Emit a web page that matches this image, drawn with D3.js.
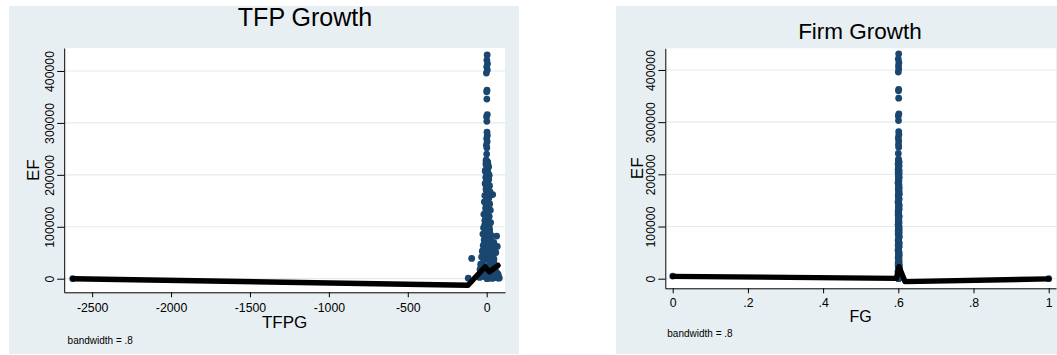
<!DOCTYPE html>
<html>
<head>
<meta charset="utf-8">
<script src="https://cdn.jsdelivr.net/npm/d3@7"></script>
<style>
  body { margin: 0; background: #fff; }
  svg { display: block; font-family: "Liberation Sans", Arial, sans-serif; }
</style>
</head>
<body>
<svg id="chart" width="1057" height="355"></svg>
<script>
// EF values of the observations that sit in the tall column (shared by both panels)
const efColumn = [
  431000, 421000, 414000, 408000, 402000, 396000, 363000, 360000, 346000, 316000,
  312000, 303000, 282000, 276000, 270000, 264000, 257000, 252000, 240000, 229000,
  225000, 221000, 217000, 213000, 209000, 205000, 201000, 197000, 193000, 189000,
  185000, 181000, 177000, 173000, 169000, 165000, 162000, 158000, 154000, 150000,
  146000, 142000, 138000, 134000, 130000, 126000, 122000, 118000, 114000, 110000,
  106000, 103000, 100000, 96000, 92000, 88000, 85000, 81000, 77000, 73000,
  70000, 66000, 62000, 58000, 55000, 51000, 47000, 44000, 40000, 37000,
  33000, 30000, 26000, 23000, 20000, 17000, 14000, 11000, 8000, 5000,
  3000, 1000, 0, 2000, 6000, 4000, 9000, 15000, 24000, 31000,
  227000, 223000, 219000, 215000, 211000, 207000, 203000, 199000, 195000, 191000,
  187000, 183000, 179000, 175000, 171000, 167000, 163000, 160000, 156000, 152000,
  148000, 144000, 140000, 136000, 132000, 128000, 124000, 120000, 116000, 112000,
  108000, 104000, 98000, 94000, 90000, 86000, 83000, 79000, 75000, 71000,
  68000, 64000, 60000, 56000, 53000, 49000, 45000, 42000, 38000, 35000,
  28000, 25000, 21000, 18000, 12000, 10000, 7000, 2500, 1500, 500
];
// TFPG for the same rows
const tfpgColumn = [
  3, 1, 5, 0, 4, -2, 2, 0, 1, 4,
  -1, 1, 2, 4, 0, 3, -2, 1, 0, -3,
  6, -5, 10, 2, -7, 5, 12, -2, 8, 1,
  -6, 9, 3, -4, 15, 6, 38, -1, 11, 3,
  -8, 9, 0, 14, -5, 4, -10, 11, 2, -6,
  7, -13, 16, 1, -9, 20, -3, 26, 6, -15,
  10, -2, 24, 4, -20, 14, 0, 30, -12, 8,
  36, -25, 18, -5, 42, 10, -30, 22, 50, -8,
  60, 15, 2, 68, 33, -18, 72, 55, -35, 45,
  -4, 7, -1, 12, 4, -9, 9, 16, -6, 13,
  2, -10, 18, 7, -3, 21, 0, -12, 14, 5,
  -15, 19, 8, -7, 23, 2, -18, 16, 9, -12,
  25, 3, -20, 19, 12, -24, 28, 6, -16, 34,
  18, -22, 40, 2, -28, 30, 12, -32, 46, 20,
  -38, 56, 28, -42, 62, 5, 48, -45, 80, 36
];
// FG for the same rows
const fgColumn = [
  .601, .6, .6015, .6005, .601, .6, .601, .6005, .601, .6015,
  .6, .6005, .601, .6015, .6, .601, .6005, .601, .6, .6005,
  .6015, .5998, .602, .6005, .5995, .601, .6022, .6, .6018, .6008,
  .5997, .6016, .6006, .6, .602, .601, .6024, .6002, .6017, .6007,
  .5996, .6015, .6003, .6021, .5998, .601, .5995, .6018, .6005, .5999,
  .6012, .5996, .6022, .6004, .5997, .6024, .6001, .602, .601, .5995,
  .6014, .6, .6023, .6008, .5995, .6019, .6003, .6024, .5997, .6012,
  .6022, .5996, .6018, .6, .6025, .601, .5995, .602, .6023, .6002,
  .6015, .6005, .601, .6022, .5998, .6018, .6003, .5996, .6024, .6008,
  .6008, .6019, .5997, .6014, .6003, .6023, .5996, .6011, .6021, .6001,
  .6016, .5995, .6009, .6024, .6, .6013, .6021, .5998, .6006, .6019,
  .5996, .6012, .6024, .6002, .6017, .5995, .6009, .6022, .6, .6014,
  .6019, .5997, .6011, .6025, .6004, .5996, .6016, .6021, .6001, .601,
  .6024, .5998, .6013, .6006, .5995, .602, .6011, .5999, .6018, .6003,
  .6023, .5996, .6008, .602, .5997, .6013, .6025, .6002, .6017, .5998
];

// stray observations away from the column
const tfpgExtraX = [-2623, -117, -95, 63, 67, 58, 45, 72, 52, 75, 66, 40];
const tfpgExtraY = [0, 1000, 39000, 82000, 62000, 50000, 70000, 6000, 3000, 1000, 8000, 58000];
const fgExtraX = [0, 1];
const fgExtraY = [5000, 0];

// fitted lines (bandwidth = .8)
const tfpgLineX = [-2623, -118, -10, 0, 17, 72];
const tfpgLineY = [0, -12500, 23000, 19000, 13500, 25500];
const fgLineX = [0, 0.595, 0.602, 0.618, 1];
const fgLineY = [4500, 700, 23000, -5700, -300];

const efTicks = [0, 100000, 200000, 300000, 400000];
const tfpgTicks = [-2500, -2000, -1500, -1000, -500, 0];
const fgTicks = [0, 0.2, 0.4, 0.6, 0.8, 1];
const fgTickLabels = ["0", ".2", ".4", ".6", ".8", "1"];

const navy = "#1a476f";
const panelBg = "#e8eff2";
const gridColor = "#e3ebee";

const svg = d3.select("#chart");

function drawPanel(p) {
  const g = svg.append("g");

  g.append("rect")
    .attr("x", p.bg[0]).attr("y", p.bg[1])
    .attr("width", p.bg[2]).attr("height", p.bg[3])
    .attr("fill", panelBg);

  g.append("rect")
    .attr("x", p.plot[0]).attr("y", p.plot[2])
    .attr("width", p.plot[1] - p.plot[0]).attr("height", p.plot[3] - p.plot[2])
    .attr("fill", "#fff");

  const x = d3.scaleLinear().domain(p.xDomain).range([p.plot[0], p.plot[1]]);
  const y = d3.scaleLinear().domain(p.yDomain).range([p.plot[3], p.plot[2]]);

  // grid
  g.append("g").selectAll("line")
    .data(efTicks)
    .join("line")
    .attr("x1", p.plot[0]).attr("x2", p.plot[1])
    .attr("y1", d => y(d)).attr("y2", d => y(d))
    .attr("stroke", gridColor)
    .attr("stroke-width", 1.2);

  // points
  const pts = p.colX.map((v, i) => [v, efColumn[i]])
    .concat(p.extraX.map((v, i) => [v, p.extraY[i]]));
  g.append("g").selectAll("circle")
    .data(pts)
    .join("circle")
    .attr("cx", d => x(d[0]))
    .attr("cy", d => y(d[1]))
    .attr("r", 3.4)
    .attr("fill", navy);

  // fitted line
  const line = d3.line().x(d => x(d[0])).y(d => y(d[1]));
  g.append("path")
    .datum(p.lineX.map((v, i) => [v, p.lineY[i]]))
    .attr("d", line)
    .attr("fill", "none")
    .attr("stroke", "#000")
    .attr("stroke-width", 5.4)
    .attr("stroke-linejoin", "round")
    .attr("stroke-linecap", "round");

  // y axis
  const yAxis = g.append("g")
    .attr("transform", `translate(${p.plot[0]},0)`)
    .call(d3.axisLeft(y).tickValues(efTicks).tickSize(7).tickSizeOuter(0)
      .tickFormat(d => String(d)));
  yAxis.selectAll("text")
    .attr("transform", "rotate(-90)")
    .attr("x", 0).attr("y", -10).attr("dy", 0)
    .attr("text-anchor", "middle")
    .attr("fill", "#000")
    .style("font-size", "12.3px")
    .style("font-family", "Liberation Sans, Arial, sans-serif");
  yAxis.selectAll("path, line").attr("stroke", "#000");

  // x axis
  const xAxis = g.append("g")
    .attr("transform", `translate(0,${p.plot[3]})`)
    .call(d3.axisBottom(x).tickValues(p.xTicks).tickSize(5).tickSizeOuter(0)
      .tickFormat((d, i) => p.xLabels ? p.xLabels[i] : String(d)));
  xAxis.selectAll("text")
    .attr("y", p.xLabelOff).attr("dy", 0)
    .attr("fill", "#000")
    .style("font-size", "12.3px")
    .style("font-family", "Liberation Sans, Arial, sans-serif");
  xAxis.selectAll("path, line").attr("stroke", "#000");

  // titles
  g.append("text")
    .attr("x", p.title.x).attr("y", p.title.y)
    .attr("text-anchor", "middle")
    .style("font-size", p.title.size + "px")
    .text(p.title.text);

  g.append("text")
    .attr("x", (p.plot[0] + p.plot[1]) / 2).attr("y", p.xTitle.y)
    .attr("text-anchor", "middle")
    .style("font-size", p.xTitle.size + "px")
    .text(p.xTitle.text);

  g.append("text")
    .attr("transform", `translate(${p.yTitleX},${(p.plot[2] + p.plot[3]) / 2}) rotate(-90)`)
    .attr("text-anchor", "middle")
    .style("font-size", "17px")
    .text("EF");

  g.append("text")
    .attr("x", p.note[0]).attr("y", p.note[1])
    .style("font-size", "10px")
    .text("bandwidth = .8");
}

drawPanel({
  bg: [9, 6, 510, 348],
  plot: [64.2, 505, 48, 292.3],
  xDomain: [-2677, 116],
  yDomain: [-26190, 444260],
  colX: tfpgColumn,
  extraX: tfpgExtraX, extraY: tfpgExtraY,
  lineX: tfpgLineX, lineY: tfpgLineY,
  xTicks: tfpgTicks,
  xLabelOff: 19.7,
  title: { text: "TFP Growth", x: 305, y: 26, size: 25 },
  xTitle: { text: "TFPG", y: 328.3, size: 17 },
  yTitleX: 39,
  note: [67.6, 343.5]
});

drawPanel({
  bg: [616, 6, 441, 348],
  plot: [665.3, 1056, 48.3, 288.3],
  xDomain: [-0.0197, 1.0194],
  yDomain: [-18400, 441550],
  colX: fgColumn,
  extraX: fgExtraX, extraY: fgExtraY,
  lineX: fgLineX, lineY: fgLineY,
  xTicks: fgTicks,
  xLabels: fgTickLabels,
  xLabelOff: 18.7,
  title: { text: "Firm Growth", x: 860, y: 39.3, size: 22.5 },
  xTitle: { text: "FG", y: 322.3, size: 16 },
  yTitleX: 643.3,
  note: [667.3, 337]
});
</script>
</body>
</html>
